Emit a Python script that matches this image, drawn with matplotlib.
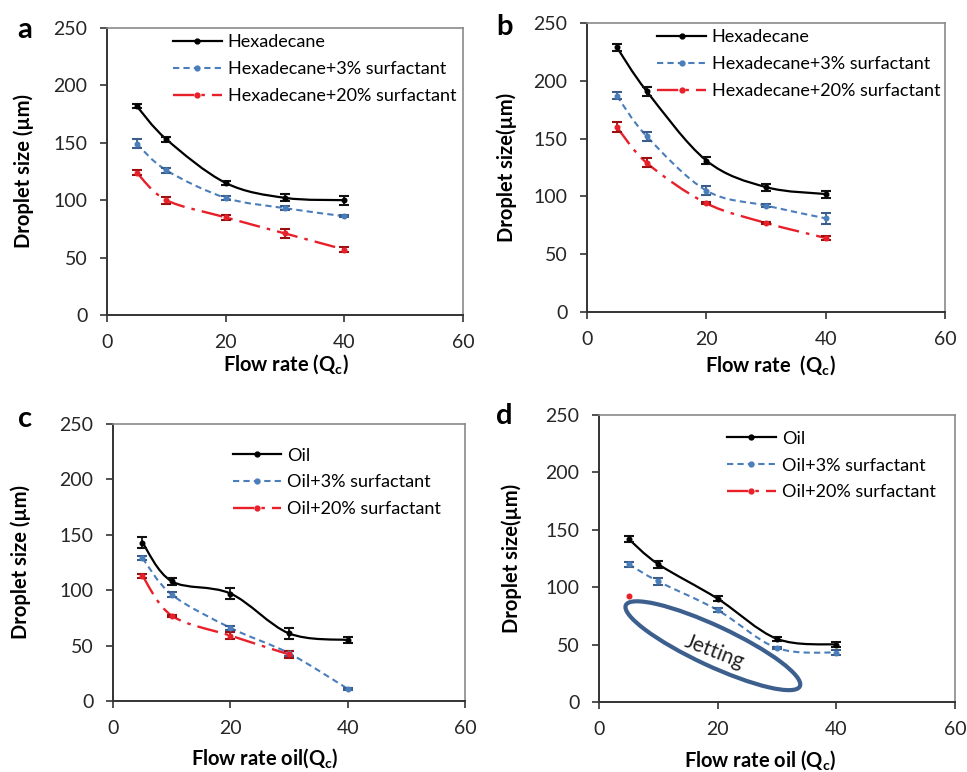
import numpy as np
import matplotlib
matplotlib.use("Agg")
import matplotlib.pyplot as plt
from matplotlib.path import Path
from matplotlib.patches import PathPatch, Ellipse
from matplotlib.lines import Line2D
import matplotlib.transforms as mtransforms

plt.rcParams['font.family'] = ['Lato', 'DejaVu Sans']
plt.rcParams['mathtext.fontset'] = 'custom'
plt.rcParams['mathtext.rm'] = 'Lato'
plt.rcParams['mathtext.bf'] = 'Lato:bold'

# ---------------- data ----------------
flow = [5, 10, 20, 30, 40]
flow_c20 = [5, 10, 20, 30]
flow_d20 = [5]

a_hex = [182, 153, 115, 102, 100]
a_hex_err = [2, 2, 2, 3, 4]
a_s3 = [149, 126, 102, 93, 86]
a_s3_err = [4, 2, 2, 2, 1]
a_s20 = [124, 100, 85, 71, 57]
a_s20_err = [2, 3, 2, 4, 2]

b_hex = [229, 191, 131, 108, 102]
b_hex_err = [3, 4, 3, 3, 3]
b_s3 = [187, 152, 105, 92, 81]
b_s3_err = [3, 4, 4, 1, 5]
b_s20 = [160, 129, 94, 77, 64]
b_s20_err = [4, 4, 1, 1, 2]

c_oil = [143, 108, 97, 61, 55]
c_oil_err = [5, 3, 5, 5, 3]
c_s3 = [129, 96, 66, 43, 11]
c_s3_err = [2, 2, 2, 2, 1]
c_s20 = [113, 77, 59, 42]
c_s20_err = [2, 1, 3, 3]

d_oil = [142, 120, 90, 55, 50]
d_oil_err = [3, 3, 2, 2, 2]
d_s3 = [120, 105, 80, 47, 43]
d_s3_err = [2, 3, 2, 1, 2]
d_s20 = [92]

hex_labels = ['Hexadecane', 'Hexadecane+3% surfactant', 'Hexadecane+20% surfactant']
oil_labels = ['Oil', 'Oil+3% surfactant', 'Oil+20% surfactant']
xticks = [0, 20, 40, 60]
yticks = [0, 50, 100, 150, 200, 250]

# ---------------- style ----------------
BLACK = '#000000'
BLUE = '#4a7ebb'
RED = '#e8202a'
styles = [
    dict(color=BLACK, ls='-', lw=1.6, ecol='#111111'),
    dict(color=BLUE, ls=(0, (3, 2)), lw=1.5, ecol='#3c5d8a'),
    dict(color=RED, ls=(0, (9, 3, 1.5, 3)), lw=1.7, ecol='#9a1010'),
]


def smooth_path(x, y):
    x = np.asarray(x, float)
    y = np.asarray(y, float)
    pts = np.column_stack([x, y])
    n = len(pts)
    verts = [pts[0]]
    codes = [Path.MOVETO]
    for i in range(n - 1):
        p0 = pts[i - 1] if i > 0 else pts[i]
        p1 = pts[i]
        p2 = pts[i + 1]
        p3 = pts[i + 2] if i + 2 < n else pts[i + 1]
        c1 = p1 + (p2 - p0) / 6.0
        c2 = p2 - (p3 - p1) / 6.0
        verts += [c1, c2, p2]
        codes += [Path.CURVE4] * 3
    return Path(verts, codes)


def draw_series(ax, x, y, err, st):
    if len(x) > 1:
        patch = PathPatch(smooth_path(x, y), fill=False, edgecolor=st['color'],
                          lw=st['lw'], linestyle=st['ls'], zorder=3)
        ax.add_patch(patch)
    if err is not None:
        ax.errorbar(x, y, yerr=err, fmt='none', ecolor=st['ecol'], elinewidth=1.3,
                    capsize=3.5, capthick=1.5, zorder=4)
    ax.plot(x, y, 'o', color=st['color'], ms=3.3, zorder=5)


def setup_axes(ax):
    ax.set_xlim(0, 60)
    ax.set_ylim(0, 250)
    ax.set_xticks(xticks)
    ax.set_yticks(yticks)
    ax.tick_params(axis='both', direction='out', length=5, width=1.2,
                   labelsize=14, color='#333333', labelcolor='#262626')
    ax.tick_params(axis='x', pad=9)
    ax.tick_params(axis='y', pad=9)
    for s in ['left', 'bottom']:
        ax.spines[s].set_color('#333333')
        ax.spines[s].set_linewidth(1.4)
    for s in ['top', 'right']:
        ax.spines[s].set_color('#8a8a8a')
        ax.spines[s].set_linewidth(1.2)


def add_legend(ax, labels, anchor):
    handles = []
    for st in styles:
        handles.append(Line2D([0], [0], color=st['color'], ls=st['ls'], lw=st['lw'],
                              marker='o', ms=3.5))
    ax.legend(handles, labels, loc='upper left', bbox_to_anchor=anchor,
              frameon=False, fontsize=13, handlelength=2.7, handletextpad=0.33,
              labelspacing=0.6, borderpad=0, borderaxespad=0)


fig = plt.figure(figsize=(9.67, 7.72), dpi=100)
axa = fig.add_axes([0.1107, 0.5920, 0.3681, 0.3718])
axb = fig.add_axes([0.6070, 0.5959, 0.3702, 0.3744])
axc = fig.add_axes([0.1169, 0.0920, 0.3640, 0.3588])
axd = fig.add_axes([0.6194, 0.0907, 0.3681, 0.3718])

for ax in (axa, axb, axc, axd):
    setup_axes(ax)

# panel a
draw_series(axa, flow, a_hex, a_hex_err, styles[0])
draw_series(axa, flow, a_s3, a_s3_err, styles[1])
draw_series(axa, flow, a_s20, a_s20_err, styles[2])
add_legend(axa, hex_labels, (0.185, 0.978))

# panel b
draw_series(axb, flow, b_hex, b_hex_err, styles[0])
draw_series(axb, flow, b_s3, b_s3_err, styles[1])
draw_series(axb, flow, b_s20, b_s20_err, styles[2])
add_legend(axb, hex_labels, (0.196, 0.978))

# panel c
draw_series(axc, flow, c_oil, c_oil_err, styles[0])
draw_series(axc, flow, c_s3, c_s3_err, styles[1])
draw_series(axc, flow_c20, c_s20, c_s20_err, styles[2])
add_legend(axc, oil_labels, (0.34, 0.915))

# panel d
draw_series(axd, flow, d_oil, d_oil_err, styles[0])
draw_series(axd, flow, d_s3, d_s3_err, styles[1])
draw_series(axd, flow_d20, d_s20, None, styles[2])
add_legend(axd, oil_labels, (0.36, 0.945))

# jetting ellipse (panel d)
trans = fig.dpi_scale_trans + mtransforms.ScaledTranslation(19.2, 49, axd.transData)
ell = Ellipse((0, 0), width=1.92, height=0.40, angle=-25, transform=trans,
              fill=False, edgecolor='#3d5f8e', lw=3, zorder=6)
axd.add_patch(ell)
axd.text(19.4, 43.5, 'Jetting', rotation=-21, fontsize=15, color='#222222',
         ha='center', va='center', zorder=7)

# axis labels
ylab_a = 'Droplet size (µm)'
ylab_b = 'Droplet size(µm)'
for ax, lab, xy in [(axa, ylab_a, (-0.205, 0.5)), (axb, ylab_b, (-0.196, 0.5)),
                    (axc, ylab_a, (-0.233, 0.5)), (axd, ylab_b, (-0.216, 0.5))]:
    ax.set_ylabel(lab, fontsize=14.5, fontweight='bold')
    ax.yaxis.set_label_coords(*xy)

xlabs = [(axa, r'Flow rate (Q$_{\mathbf{c}}$)', 0.503, -0.172),
         (axb, r'Flow rate  (Q$_{\mathbf{c}}$)', 0.511, -0.185),
         (axc, r'Flow rate oil(Q$_{\mathbf{c}}$)', 0.43, -0.208),
         (axd, r'Flow rate oil (Q$_{\mathbf{c}}$)', 0.452, -0.204)]
for ax, lab, x, y in xlabs:
    ax.text(x, y, lab, transform=ax.transAxes, fontsize=14.5, fontweight='bold',
            ha='center', va='center')

# panel letters
for lt, (px, py) in zip('abcd', [(25, 30), (504, 27), (25, 419), (504, 416)]):
    fig.text(px / 967, 1 - py / 772, lt, fontsize=21, fontweight='bold',
             ha='center', va='center')

fig.savefig('out.png', dpi=100)
